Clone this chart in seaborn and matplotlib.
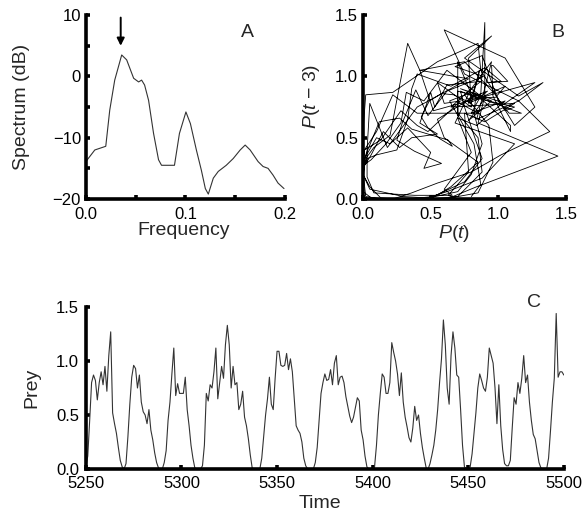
import matplotlib
matplotlib.use("Agg")
import matplotlib.pyplot as plt
import seaborn as sns

# ---- Panel A: power spectrum ----
freq = [0.000, 0.009, 0.020, 0.024, 0.029, 0.036, 0.041, 0.048, 0.053, 0.056,
        0.059, 0.063, 0.068, 0.073, 0.076, 0.084, 0.089, 0.094, 0.1005, 0.105,
        0.111, 0.116, 0.120, 0.123, 0.128, 0.133, 0.141, 0.148, 0.155, 0.160,
        0.165, 0.173, 0.178, 0.183, 0.188, 0.193, 0.199]
spectrum_db = [-13.9, -12.0, -11.4, -5.5, -0.6, 3.5, 2.7, -0.3, -0.9, -0.6,
               -1.4, -3.9, -9.3, -13.6, -14.5, -14.5, -14.5, -9.3, -5.8, -7.7,
               -12.0, -15.3, -18.3, -19.2, -16.6, -15.5, -14.5, -13.4, -12.0, -11.2,
               -12.0, -13.9, -14.7, -15.0, -16.1, -17.4, -18.3]
peak_freq = 0.035

# ---- Panel C: prey time series (one value per time unit) ----
prey_5250 = [0.02, 0.12, 0.45, 0.80, 0.87, 0.82, 0.64, 0.80, 0.90, 0.78,
             0.95, 0.72, 1.05, 1.27, 0.52, 0.42, 0.33, 0.20, 0.08, 0.02,
             0.00, 0.05, 0.30, 0.60, 0.85, 0.96, 0.93, 0.75, 0.87, 0.62,
             0.53, 0.50, 0.42, 0.55, 0.36, 0.27, 0.15, 0.06, 0.01, 0.00,
             0.00, 0.06, 0.17, 0.45, 0.62, 0.88, 1.12, 0.68, 0.79, 0.70]
prey_5300 = [0.70, 0.70, 0.85, 0.55, 0.40, 0.22, 0.10, 0.01, 0.00, 0.00,
             0.00, 0.03, 0.22, 0.70, 0.63, 0.78, 0.75, 0.90, 1.12, 0.65,
             0.80, 0.95, 0.84, 1.15, 1.33, 1.15, 0.75, 0.95, 0.78, 0.80,
             0.55, 0.60, 0.72, 0.48, 0.40, 0.28, 0.13, 0.01, 0.00, 0.00,
             0.00, 0.00, 0.10, 0.30, 0.50, 0.65, 0.85, 0.60, 0.55, 0.84]
prey_5350 = [1.09, 1.09, 0.96, 0.95, 0.96, 1.07, 0.92, 1.02, 0.90, 0.65,
             0.40, 0.36, 0.33, 0.25, 0.10, 0.03, 0.00, 0.00, 0.00, 0.00,
             0.06, 0.20, 0.45, 0.70, 0.80, 0.88, 0.82, 0.83, 0.92, 0.78,
             0.98, 1.05, 0.78, 0.85, 0.86, 0.80, 0.67, 0.58, 0.49, 0.43,
             0.48, 0.57, 0.66, 0.63, 0.36, 0.27, 0.12, 0.02, 0.00, 0.00]
prey_5400 = [0.00, 0.02, 0.22, 0.50, 0.70, 0.88, 0.85, 0.70, 0.70, 0.80,
             1.17, 1.08, 1.00, 0.88, 0.68, 0.89, 0.62, 0.48, 0.39, 0.29,
             0.25, 0.38, 0.58, 0.45, 0.50, 0.33, 0.20, 0.10, 0.01, 0.00,
             0.05, 0.13, 0.22, 0.36, 0.55, 0.80, 1.02, 1.38, 1.15, 0.75,
             0.60, 1.05, 1.27, 1.12, 0.87, 0.85, 0.55, 0.22, 0.02, 0.00]
prey_5450 = [0.00, 0.02, 0.14, 0.33, 0.52, 0.75, 0.88, 0.82, 0.75, 0.72,
             0.85, 1.12, 1.05, 0.98, 0.75, 0.42, 0.78, 0.40, 0.18, 0.05,
             0.03, 0.03, 0.08, 0.38, 0.66, 0.60, 0.80, 0.70, 0.84, 1.05,
             0.80, 0.87, 0.62, 0.45, 0.32, 0.28, 0.17, 0.06, 0.01, 0.00,
             0.00, 0.00, 0.10, 0.35, 0.62, 0.84, 1.44, 0.85, 0.90, 0.90,
             0.87]
prey = prey_5250 + prey_5300 + prey_5350 + prey_5400 + prey_5450
time = list(range(5250, 5250 + len(prey)))
lag = 3

# ---- Style ----
sns.set_style("ticks")
plt.rcParams['font.family'] = ['Liberation Sans', 'DejaVu Sans']
plt.rcParams['mathtext.fontset'] = 'custom'
plt.rcParams['mathtext.it'] = 'Liberation Sans:italic'
plt.rcParams['mathtext.rm'] = 'Liberation Sans'

fig = plt.figure(figsize=(5.84, 5.15), dpi=100)
axA = fig.add_axes([0.147, 0.6136, 0.341, 0.357])
axB = fig.add_axes([0.6216, 0.6136, 0.3476, 0.357])
axC = fig.add_axes([0.147, 0.0893, 0.8185, 0.3146])


def style(ax, xpad=4, ypad=4):
    sns.despine(ax=ax)
    for s in ['left', 'bottom']:
        ax.spines[s].set_linewidth(2.6)
        ax.spines[s].set_color('black')
    ax.tick_params(which='both', direction='in', length=3, width=2.6,
                   labelsize=12, color='black', labelcolor='black')
    ax.tick_params(axis='x', which='both', pad=xpad)
    ax.tick_params(axis='y', which='both', pad=ypad)


# Panel A
sns.lineplot(x=freq, y=spectrum_db, ax=axA, color='#333333', lw=0.8)
axA.set_xlim(0, 0.2)
axA.set_ylim(-20, 10)
axA.set_xticks([0, 0.1, 0.2], ['0.0', '0.1', '0.2'])
axA.set_xticks([0.05, 0.15], minor=True)
axA.set_yticks([-20, -10, 0, 10], ['\u221220', '\u221210', '0', '10'])
axA.set_yticks([-15, -5, 5], minor=True)
style(axA, xpad=5.5, ypad=3.5)
axA.set_xlabel('Frequency', fontsize=14)
axA.set_ylabel('Spectrum (dB)', fontsize=14)
axA.xaxis.set_label_coords(0.49, -0.125)
axA.yaxis.set_label_coords(-0.28, 0.5)
axA.annotate('', xy=(peak_freq, 5.0), xytext=(peak_freq, 9.6),
             arrowprops=dict(arrowstyle='-|>', color='black', lw=1.4,
                             mutation_scale=11, shrinkA=0, shrinkB=0))
axA.text(0.814, 0.905, 'A', transform=axA.transAxes, fontsize=14,
         ha='center', va='center')

# Panel B: lag plot of the series
sns.lineplot(x=prey[lag:], y=prey[:-lag], ax=axB, sort=False, estimator=None,
             color='black', lw=0.6)
axB.set_xlim(0, 1.5)
axB.set_ylim(0, 1.5)
axB.set_xticks([0, 0.5, 1.0, 1.5], ['0.0', '0.5', '1.0', '1.5'])
axB.set_yticks([0, 0.5, 1.0, 1.5], ['0.0', '0.5', '1.0', '1.5'])
style(axB, xpad=5.5, ypad=3.5)
axB.set_xlabel('$P$($t$)', fontsize=14)
axB.set_ylabel('$P$($t$ \u2212 3)', fontsize=14)
axB.xaxis.set_label_coords(0.45, -0.13)
axB.yaxis.set_label_coords(-0.20, 0.56)
axB.text(0.96, 0.905, 'B', transform=axB.transAxes, fontsize=14,
         ha='center', va='center')

# Panel C: time series
sns.lineplot(x=time, y=prey, ax=axC, color='#333333', lw=0.8)
axC.set_xlim(5250, 5500)
axC.set_ylim(0, 1.5)
axC.set_xticks([5250, 5300, 5350, 5400, 5450, 5500])
axC.set_yticks([0, 0.5, 1.0, 1.5], ['0.0', '0.5', '1.0', '1.5'])
style(axC, xpad=5, ypad=5)
axC.set_xlabel('Time', fontsize=14)
axC.set_ylabel('Prey', fontsize=14)
axC.xaxis.set_label_coords(0.49, -0.16)
axC.yaxis.set_label_coords(-0.095, 0.5)
axC.text(0.937, 1.03, 'C', transform=axC.transAxes, fontsize=14,
         ha='center', va='center')

fig.savefig('out.png', dpi=100)
